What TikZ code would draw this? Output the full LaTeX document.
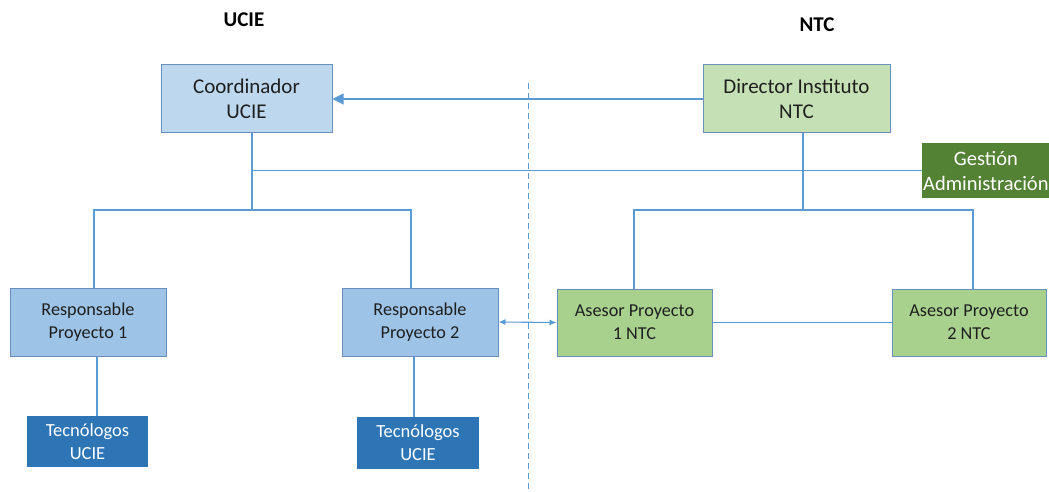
\documentclass[tikz,border=0pt]{standalone}
\usepackage{fontspec}
\setmainfont{Carlito}
\usetikzlibrary{arrows.meta,calc}
\definecolor{lnblue}{HTML}{5B9BD5}
\definecolor{bdblue}{HTML}{6A8FBA}
\definecolor{coordfill}{HTML}{BDD7EE}
\definecolor{respfill}{HTML}{9DC3E6}
\definecolor{tecfill}{HTML}{2E75B6}
\definecolor{dirfill}{HTML}{C5E0B4}
\definecolor{asefill}{HTML}{A9D18E}
\definecolor{gesfill}{HTML}{548235}
\definecolor{txt}{HTML}{1F1F1F}
\tikzset{
  boxbase/.style={rectangle, draw=bdblue, line width=1pt, align=center, inner sep=0pt, text=txt},
  bigbox/.style={boxbase, font=\fontsize{21}{25}\selectfont, minimum height=68pt},
  smallbox/.style={boxbase, font=\fontsize{18.2}{23}\selectfont, minimum height=67pt},
  darkbox/.style={rectangle, align=center, inner sep=0pt, text=white, font=\fontsize{18.5}{23}\selectfont},
  conn/.style={draw=lnblue, line width=1.1pt},
  title/.style={font=\bfseries\fontsize{21}{25}\selectfont, text=black}
}
\begin{document}
\begin{tikzpicture}[x=1pt,y=-1pt]
\useasboundingbox (0,0) rectangle (1049,492);
\fill[white] (0,0) rectangle (1049,492);
% titles
\node[title] (tU) at (244,20) {UCIE};
\node[title] (tN) at (817,25) {NTC};
% boxes
\node[bigbox, fill=coordfill, minimum width=171pt] (coord) at (246.5,99) {Coordinador\\UCIE};
\node[bigbox, fill=dirfill, minimum width=187pt] (dir) at (796.5,99) {Director Instituto\\NTC};
\node[darkbox, fill=gesfill, anchor=west, minimum height=55pt, inner xsep=1pt, font=\fontsize{20.5}{25}\selectfont] (gest) at (922,170.5) {Gestión\\Administración};
\node[smallbox, fill=respfill, minimum width=156pt, minimum height=68pt] (r1) at (88,322) {Responsable\\Proyecto 1};
\node[smallbox, fill=respfill, minimum width=156pt, minimum height=68pt] (r2) at (420,322) {Responsable\\Proyecto 2};
\node[smallbox, fill=asefill, minimum width=155pt] (a1) at (634.5,322.5) {Asesor Proyecto\\1 NTC};
\node[smallbox, fill=asefill, minimum width=154pt] (a2) at (969,322.5) {Asesor Proyecto\\2 NTC};
\node[darkbox, fill=tecfill, minimum width=121pt, minimum height=51pt] (t1) at (87.5,441.5) {Tecnólogos\\UCIE};
\node[darkbox, fill=tecfill, minimum width=122pt, minimum height=52pt] (t2) at (418,443) {Tecnólogos\\UCIE};
% helper coordinates
\coordinate (jC) at (252,210);
\coordinate (jG) at (252,170.5);
\coordinate (x94) at (94,0);
\coordinate (x411) at (411,0);
\coordinate (x97) at (97,0);
\coordinate (x414) at (414,0);
\coordinate (jD) at (803,210);
\coordinate (x634) at (634,0);
\coordinate (x973) at (973,0);
% dashed divider
\draw[lnblue, line width=1pt, dash pattern=on 6pt off 4pt] (528,83) -- (528,490);
% connectors
\draw[conn, -{Triangle[length=11pt,width=11pt]}] (dir.west) -- (coord.east);
\draw[conn] (coord.south -| jC) -- (jC);
\draw[conn] (jG) -- (gest.west);
\draw[conn] (r1.north -| x94) |- (jC) -| (r2.north -| x411);
\draw[conn] (r1.south -| x97) -- (t1.north -| x97);
\draw[conn] (r2.south -| x414) -- (t2.north -| x414);
\draw[conn] (dir.south -| jD) -- (jD);
\draw[conn] (a1.north -| x634) |- (jD) -| (a2.north -| x973);
\draw[conn, {Latex[length=7pt,width=6pt]}-{Latex[length=7pt,width=6pt]}] (r2.east) -- (a1.west);
\draw[conn] (a1.east) -- (a2.west);
\end{tikzpicture}
\end{document}
